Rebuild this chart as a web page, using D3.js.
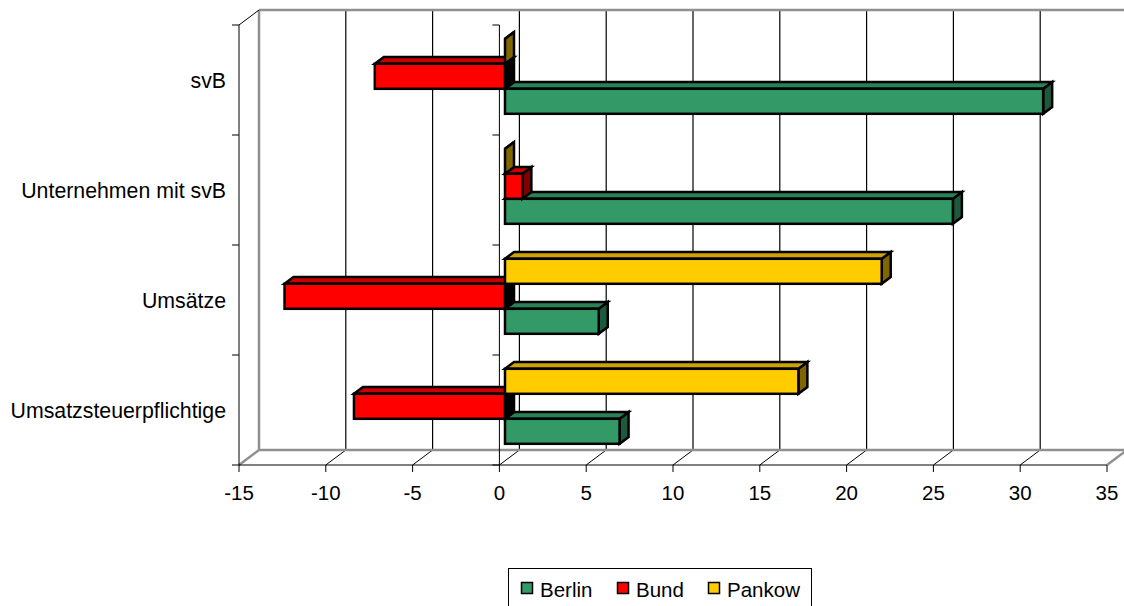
<!DOCTYPE html>
<html>
<head>
<meta charset="utf-8">
<script src="https://cdn.jsdelivr.net/npm/d3@7"></script>
<style>
  html, body { margin: 0; padding: 0; background: #fff; }
  svg { display: block; }
  text { font-family: "Liberation Sans", Arial, sans-serif; fill: #000; }
</style>
</head>
<body>
<svg id="chart" width="1124" height="606"></svg>
<script>
// ---- data ----
const categories = ["svB", "Unternehmen mit svB", "Umsätze", "Umsatzsteuerpflichtige"];
const seriesNames = ["Berlin", "Bund", "Pankow"];
const berlin = [31.0, 25.8, 5.4, 6.6];
const bund   = [-7.5, 1.0, -12.7, -8.7];
const pankow = [0.0, 0.0, 21.7, 16.9];
const tickValues = [-15, -10, -5, 0, 5, 10, 15, 20, 25, 30, 35];

const seriesValues = { Berlin: berlin, Bund: bund, Pankow: pankow };
const colors = {
  Berlin: { front: "#339966", top: "#2b8156", side: "#1d5a3b" },
  Bund:   { front: "#ff0000", top: "#c80000", side: "#800000" },
  Pankow: { front: "#ffcc00", top: "#cca300", side: "#806600" }
};

// ---- geometry ----
const svg = d3.select("#chart");
const x = d3.scaleLinear().domain([-15, 35]).range([239, 1107]);
const y = d3.scaleBand().domain(categories).range([25, 465]).paddingInner(0).paddingOuter(0);
const DX = 20, DY = -15;           // wall depth offset
const f0 = 0.28, f1 = 0.73;         // bar depth (fraction of wall depth)
// series order inside a band: top to bottom
const ySub = d3.scaleBand().domain(["Pankow", "Bund", "Berlin"]).range([17.5, 92.5]);

const gWall = svg.append("g");
const top0 = y.range()[0], bot0 = y.range()[1];

// back wall gridlines
gWall.selectAll("line.grid").data(tickValues.filter(v => v > -15 && v < 35)).enter()
  .append("line")
  .attr("x1", d => x(d) + DX).attr("x2", d => x(d) + DX)
  .attr("y1", top0 + DY).attr("y2", bot0 + DY)
  .attr("stroke", "#000").attr("stroke-width", 1.2);
// floor diagonals
gWall.selectAll("line.diag").data(tickValues.filter(v => v > -15)).enter()
  .append("line")
  .attr("x1", d => x(d)).attr("y1", bot0)
  .attr("x2", d => x(d) + DX).attr("y2", bot0 + DY)
  .attr("stroke", d => d === 35 ? "#909090" : "#000")
  .attr("stroke-width", d => d === 35 ? 2.5 : 1);
// gray wall borders
const gray = "#909090";
gWall.append("line").attr("x1", x(-15) + DX).attr("x2", 1130).attr("y1", top0 + DY).attr("y2", top0 + DY)
  .attr("stroke", gray).attr("stroke-width", 2.5);
gWall.append("line").attr("x1", x(-15) + DX).attr("x2", x(-15) + DX).attr("y1", top0 + DY).attr("y2", bot0 + DY)
  .attr("stroke", gray).attr("stroke-width", 2.5);
gWall.append("line").attr("x1", x(-15) + DX).attr("x2", x(35) + DX).attr("y1", bot0 + DY).attr("y2", bot0 + DY)
  .attr("stroke", gray).attr("stroke-width", 2.5);
gWall.append("line").attr("x1", x(-15)).attr("y1", bot0).attr("x2", x(-15) + DX).attr("y2", bot0 + DY)
  .attr("stroke", gray).attr("stroke-width", 2.5);
// left side wall top diagonal
gWall.append("line").attr("x1", x(-15)).attr("y1", top0).attr("x2", x(-15) + DX).attr("y2", top0 + DY)
  .attr("stroke", "#000").attr("stroke-width", 1);

// category axis lines (left edge and at 0)
[-15, 0].forEach(v => {
  gWall.append("line").attr("x1", x(v)).attr("x2", x(v)).attr("y1", top0).attr("y2", bot0)
    .attr("stroke", "#000").attr("stroke-width", 1);
  const ticks = categories.map(c => y(c)).concat([bot0]);
  gWall.selectAll(null).data(ticks).enter().append("line")
    .attr("x1", x(v) - 7).attr("x2", x(v)).attr("y1", d => d).attr("y2", d => d)
    .attr("stroke", "#000").attr("stroke-width", 1);
});

// value axis (front floor edge)
gWall.append("line").attr("x1", x(-15)).attr("x2", x(35)).attr("y1", bot0).attr("y2", bot0)
  .attr("stroke", "#000").attr("stroke-width", 1);
gWall.selectAll("line.vt").data(tickValues).enter().append("line")
  .attr("x1", d => x(d)).attr("x2", d => x(d)).attr("y1", bot0).attr("y2", bot0 + 7)
  .attr("stroke", "#000").attr("stroke-width", 1);
gWall.selectAll("text.vt").data(tickValues).enter().append("text")
  .attr("x", d => x(d)).attr("y", 500)
  .attr("text-anchor", "middle").style("font-size", "20.5px")
  .text(d => d);

// category labels
gWall.selectAll("text.cat").data(categories).enter().append("text")
  .attr("x", 226).attr("y", d => y(d) + y.bandwidth() / 2 + 7.5)
  .attr("text-anchor", "end").style("font-size", "21.3px")
  .text(d => d);

// ---- bars ----
const gBars = svg.append("g");
const bx0 = f0 * DX, by0 = f0 * DY;
const bdx = (f1 - f0) * DX, bdy = (f1 - f0) * DY;
const poly = pts => pts.map(p => p.join(",")).join(" ");

categories.forEach((cat, ci) => {
  ["Berlin", "Bund", "Pankow"].forEach(s => {
    const v = seriesValues[s][ci];
    const xa = Math.min(x(0), x(v)) + bx0;
    const xb = Math.max(x(0), x(v)) + bx0;
    const yt = y(cat) + by0 + ySub(s) + 0.5;
    const yb = yt + ySub.bandwidth();
    const c = colors[s];
    const g = gBars.append("g").attr("stroke", "#000").attr("stroke-width", 2.5).attr("stroke-linejoin", "miter");
    // right side face
    g.append("polygon").attr("points", poly([[xb, yt], [xb + bdx, yt + bdy], [xb + bdx, yb + bdy], [xb, yb]]))
      .attr("fill", v < 0 ? "#000" : c.side);
    // top face
    g.append("polygon").attr("points", poly([[xa, yt], [xa + bdx, yt + bdy], [xb + bdx, yt + bdy], [xb, yt]]))
      .attr("fill", c.top);
    // front face
    g.append("rect").attr("x", xa).attr("y", yt).attr("width", xb - xa).attr("height", yb - yt)
      .attr("fill", c.front);
  });
});

// ---- legend ----
const lg = svg.append("g");
lg.append("rect").attr("x", 508.5).attr("y", 568.5).attr("width", 303).attr("height", 50)
  .attr("fill", "#fff").attr("stroke", "#000").attr("stroke-width", 1);
const legendX = { Berlin: 521, Bund: 617, Pankow: 708 };
seriesNames.forEach(s => {
  lg.append("rect").attr("x", legendX[s] + 0.5).attr("y", 582.5).attr("width", 11).attr("height", 11)
    .attr("fill", colors[s].front).attr("stroke", "#000").attr("stroke-width", 1.5);
  lg.append("text").attr("x", legendX[s] + 19).attr("y", 596.5)
    .style("font-size", "20.5px").text(s);
});
</script>
</body>
</html>
